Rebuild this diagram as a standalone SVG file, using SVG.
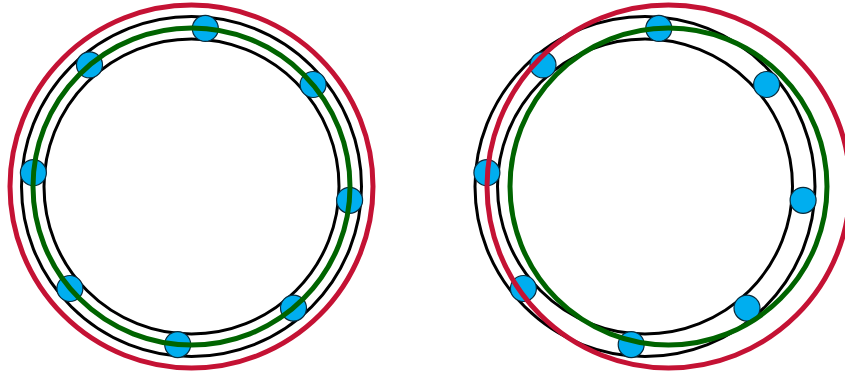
<svg xmlns="http://www.w3.org/2000/svg" width="845" height="374" viewBox="0 0 845 374">
<style>
.race{fill:none;stroke:#000;stroke-width:3}
.ball{fill:#00aeef;stroke:#0a2a3a;stroke-width:1.2}
.green{fill:none;stroke:#006400;stroke-width:5}
.red{fill:none;stroke:#c41234;stroke-width:5}
</style>
<rect width="845" height="374" fill="#fff"/>
<g id="left">
<circle class="race" cx="191.5" cy="186.5" r="170"/>
<circle class="race" cx="191.5" cy="186.5" r="147.5"/>
<g id="left-balls">
<circle class="ball" cx="205.3" cy="28.4" r="13"/>
<circle class="ball" cx="313.1" cy="84.5" r="13"/>
<circle class="ball" cx="349.6" cy="200.3" r="13"/>
<circle class="ball" cx="293.5" cy="308.1" r="13"/>
<circle class="ball" cx="177.7" cy="344.6" r="13"/>
<circle class="ball" cx="69.9" cy="288.5" r="13"/>
<circle class="ball" cx="33.4" cy="172.7" r="13"/>
<circle class="ball" cx="89.5" cy="64.9" r="13"/>
</g>
<circle class="green" cx="191.5" cy="186.5" r="158.5"/>
<circle class="red" cx="191.5" cy="186.5" r="181.5"/>
</g>
<g id="right">
<circle class="race" cx="645" cy="186.5" r="170"/>
<circle class="race" cx="645" cy="186.5" r="147.5"/>
<g id="right-balls">
<circle class="ball" cx="658.8" cy="28.4" r="13"/>
<circle class="ball" cx="766.6" cy="84.5" r="13"/>
<circle class="ball" cx="803.1" cy="200.3" r="13"/>
<circle class="ball" cx="747.0" cy="308.1" r="13"/>
<circle class="ball" cx="631.2" cy="344.6" r="13"/>
<circle class="ball" cx="523.4" cy="288.5" r="13"/>
<circle class="ball" cx="486.9" cy="172.7" r="13"/>
<circle class="ball" cx="543.0" cy="64.9" r="13"/>
</g>
<circle class="green" cx="668.5" cy="186.5" r="158.5"/>
<circle class="red" cx="668.5" cy="186.5" r="181.5"/>
</g>
</svg>
